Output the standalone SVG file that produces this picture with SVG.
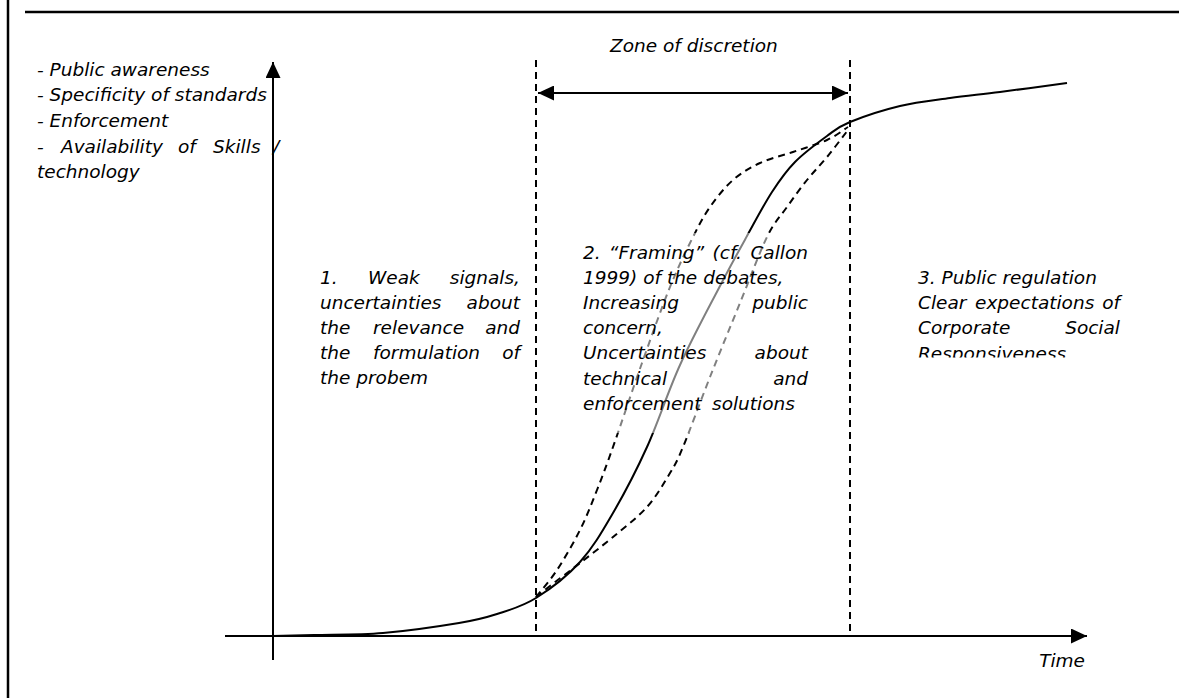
<svg xmlns="http://www.w3.org/2000/svg" width="1200" height="698" viewBox="0 0 1200 698">
<style>
.t{font-family:"DejaVu Sans","Liberation Sans",sans-serif;font-style:italic;font-size:18.5px;fill:#000}
.e{text-anchor:end}
.ln{stroke:#000;stroke-width:2;fill:none}
.dash{stroke:#000;stroke-width:2;fill:none;stroke-dasharray:7 5}
.frame{stroke:#000;stroke-width:2.5;fill:none}
</style>
<defs>
<marker id="arr" markerUnits="userSpaceOnUse" markerWidth="16" markerHeight="15" refX="16" refY="7.5" orient="auto-start-reverse" viewBox="0 0 16 15">
<path d="M0,0 L16,7.5 L0,15 Z" fill="#000"/>
</marker>
<clipPath id="clip3"><rect x="900" y="240" width="300" height="117.5"/></clipPath>
</defs>
<rect width="1200" height="698" fill="#fff"/>
<g id="frame">
<line class="frame" x1="8" y1="0" x2="8" y2="698"/>
<line class="frame" x1="25" y1="12" x2="1179" y2="12"/>
</g>
<g id="connectors">
<line id="y-axis" class="ln" x1="273" y1="660" x2="273" y2="62" marker-end="url(#arr)"/>
<line id="x-axis" class="ln" x1="225" y1="636" x2="1087" y2="636" marker-end="url(#arr)"/>
<line id="zone-left" class="dash" x1="536" y1="60" x2="536" y2="636"/>
<line id="zone-right" class="dash" x1="850" y1="60" x2="850" y2="636"/>
<line id="zone-arrow" class="ln" x1="538" y1="93" x2="848" y2="93" marker-start="url(#arr)" marker-end="url(#arr)"/>
<path id="curve-main" class="ln" d="M273,636 C279.83,635.83 295.67,635.5 314,635 C332.33,634.5 358.83,635 383,633 C407.17,631 440,626.17 459,623 C478,619.83 484.17,618.17 497,614 C509.83,609.83 522.17,606.67 536,598 C549.83,589.33 567.17,576.17 580,562 C592.83,547.83 601.83,532.17 613,513 C624.17,493.83 635.83,471.67 647,447 C658.17,422.33 667.83,391.83 680,365 C692.17,338.17 708.83,307.5 720,286 C731.17,264.5 738.33,251.67 747,236 C755.67,220.33 764,204.33 772,192 C780,179.67 785.83,171.33 795,162 C804.17,152.67 817.83,142.67 827,136 C836.17,129.33 837.83,127 850,122 C862.17,117 883.33,110 900,106 C916.67,102 933.33,100.33 950,98 C966.67,95.67 980.5,94.5 1000,92 C1019.5,89.5 1055.83,84.5 1067,83"/>
<path id="curve-fast" class="dash" d="M536,597 C539.5,592.5 549.67,581.17 557,570 C564.33,558.83 573.33,543.33 580,530 C586.67,516.67 591.5,503.83 597,490 C602.5,476.17 605.5,468.17 613,447 C620.5,425.83 632.5,389.67 642,363 C651.5,336.33 661.5,308 670,287 C678.5,266 686.33,250.33 693,237 C699.67,223.67 703.33,216.5 710,207 C716.67,197.5 724.67,187.33 733,180 C741.33,172.67 750,167.67 760,163 C770,158.33 781.83,155.83 793,152 C804.17,148.17 817.83,144.17 827,140 C836.17,135.83 844.5,129.17 848,127"/>
<path id="curve-slow" class="dash" d="M536,597 C538.33,595.17 542.67,591.67 550,586 C557.33,580.33 569.5,571.17 580,563 C590.5,554.83 601.83,546.33 613,537 C624.17,527.67 637.5,517.67 647,507 C656.5,496.33 664,483 670,473 C676,463 676.33,463 683,447 C689.67,431 700.5,401 710,377 C719.5,353 730.5,326.33 740,303 C749.5,279.67 759.17,253 767,237 C774.83,221 780.33,216.5 787,207 C793.67,197.5 800.33,188.33 807,180 C813.67,171.67 820.17,165.33 827,157 C833.83,148.67 844.5,134.5 848,130"/>
</g>
<rect x="583" y="233" width="226" height="200" fill="#fff" fill-opacity="0.5"/>
<g id="axis-label-y">
<text class="t" x="37" y="76">- Public awareness</text>
<text class="t" x="37" y="101">- Specificity of standards</text>
<text class="t" x="37" y="127">- Enforcement</text>
<text class="t" y="153"><tspan x="37">-</tspan><tspan x="61">Availability</tspan><tspan x="178">of</tspan><tspan x="213">Skills</tspan><tspan x="273">/</tspan></text>
<text class="t" x="37" y="178">technology</text>
</g>
<g id="zone-label">
<text class="t" x="610" y="52">Zone of discretion</text>
</g>
<g id="phase-1">
<text class="t" y="284"><tspan x="320">1.</tspan><tspan x="368">Weak</tspan></text>
<text class="t e" x="520" y="284">signals,</text>
<text class="t" x="320" y="309">uncertainties</text>
<text class="t e" x="520" y="309">about</text>
<text class="t" y="334"><tspan x="320">the</tspan><tspan x="373">relevance</tspan></text>
<text class="t e" x="520" y="334">and</text>
<text class="t" y="359"><tspan x="320">the</tspan><tspan x="373">formulation</tspan></text>
<text class="t e" x="520" y="359">of</text>
<text class="t" x="320" y="384">the probem</text>
</g>
<g id="phase-2">
<text class="t" y="259"><tspan x="583">2.</tspan><tspan x="608.8">“Framing”</tspan><tspan x="712.5">(cf.</tspan></text>
<text class="t e" x="808" y="259">Callon</text>
<text class="t" x="583" y="284">1999) of the debates,</text>
<text class="t" x="583" y="309">Increasing</text>
<text class="t e" x="808" y="309">public</text>
<text class="t" x="583" y="334">concern,</text>
<text class="t" x="583" y="359">Uncertainties</text>
<text class="t e" x="808" y="359">about</text>
<text class="t" x="583" y="385">technical</text>
<text class="t e" x="808" y="385">and</text>
<text class="t" y="410"><tspan x="583">enforcement</tspan><tspan x="712">solutions</tspan></text>
</g>
<g id="phase-3" clip-path="url(#clip3)">
<text class="t" x="918" y="284">3. Public regulation</text>
<text class="t" y="309"><tspan x="918">Clear</tspan><tspan x="975">expectations</tspan></text>
<text class="t e" x="1120" y="309">of</text>
<text class="t" x="918" y="334">Corporate</text>
<text class="t e" x="1120" y="334">Social</text>
<text class="t" x="918" y="359.5">Responsiveness</text>
</g>
<g id="time-label">
<text class="t e" x="1085" y="667">Time</text>
</g>
</svg>
